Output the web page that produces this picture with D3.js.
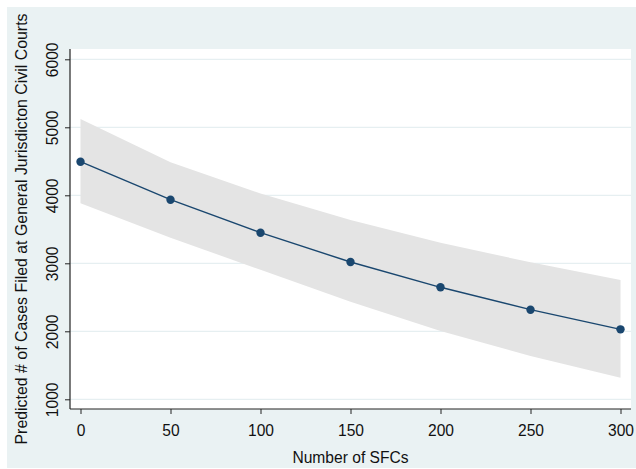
<!DOCTYPE html>
<html><head><meta charset="utf-8">
<script src="https://cdn.jsdelivr.net/npm/d3@7"></script>
<style>
html,body{margin:0;padding:0;background:#fff;}
text{font-family:"Liberation Sans",Arial,sans-serif;fill:#111;}
</style></head>
<body>
<svg id="chart" width="636" height="469"></svg>
<script>
const sfcs = [0, 50, 100, 150, 200, 250, 300];
const predicted = [4494, 3935, 3450, 3019, 2647, 2318, 2029];
const upperCI = [5122, 4485, 4025, 3637, 3303, 3015, 2754];
const lowerCI = [3882, 3375, 2905, 2435, 2004, 1637, 1318];
const yTicks = [1000, 2000, 3000, 4000, 5000, 6000];
const xTicks = [0, 50, 100, 150, 200, 250, 300];
const xTitle = "Number of SFCs";
const yTitle = "Predicted # of Cases Filed at General Jurisdicton Civil Courts";

const svg = d3.select("#chart");
const W = 636, H = 469;
const plot = {left: 70, right: 631, top: 49, bottom: 409};

svg.append("rect").attr("x", 7).attr("y", 7).attr("width", W - 7).attr("height", H - 8)
  .attr("fill", "#eaf2f3");
svg.append("rect").attr("x", plot.left).attr("y", plot.top)
  .attr("width", plot.right - plot.left).attr("height", plot.bottom - plot.top)
  .attr("fill", "#ffffff");

const x = d3.scaleLinear().domain([0, 300]).range([80.5, 620.5]);
const y = d3.scaleLinear().domain([1000, 6000]).range([399.3, 59.3]);

// gridlines
svg.append("g").selectAll("line").data(yTicks).join("line")
  .attr("x1", plot.left).attr("x2", plot.right)
  .attr("y1", d => y(d)).attr("y2", d => y(d))
  .attr("stroke", "#e6eff1").attr("stroke-width", 1.2);

const rows = sfcs.map((s, i) => ({s, p: predicted[i], hi: upperCI[i], lo: lowerCI[i]}));

// CI band
svg.append("path").datum(rows)
  .attr("d", d3.area().x(d => x(d.s)).y0(d => y(d.lo)).y1(d => y(d.hi)))
  .attr("fill", "#e4e4e4");

// line
svg.append("path").datum(rows)
  .attr("d", d3.line().x(d => x(d.s)).y(d => y(d.p)))
  .attr("fill", "none").attr("stroke", "#1a476f").attr("stroke-width", 1.4);

svg.append("g").selectAll("circle").data(rows).join("circle")
  .attr("cx", d => x(d.s)).attr("cy", d => y(d.p)).attr("r", 4.2)
  .attr("fill", "#1a476f");

// axes
const fs = "15.6px";
const yAxis = svg.append("g").attr("transform", `translate(${plot.left},0)`)
  .call(d3.axisLeft(y).tickValues(yTicks).tickSize(5).tickSizeOuter(0).tickFormat(d3.format("d")));
yAxis.select(".domain").remove();
yAxis.selectAll(".tick line").attr("stroke", "#222");
yAxis.selectAll(".tick text")
  .attr("transform", "rotate(-90)")
  .attr("x", 0).attr("y", -12.5).attr("dy", 0)
  .attr("text-anchor", "middle")
  .style("font-size", fs).style("font-family", "Liberation Sans, Arial, sans-serif").attr("fill", "#111");
svg.append("line").attr("x1", plot.left).attr("x2", plot.left)
  .attr("y1", plot.top).attr("y2", plot.bottom).attr("stroke", "#222").attr("stroke-width", 1.2);

const xAxis = svg.append("g").attr("transform", `translate(0,${plot.bottom})`)
  .call(d3.axisBottom(x).tickValues(xTicks).tickSize(5).tickSizeOuter(0));
xAxis.select(".domain").remove();
xAxis.selectAll(".tick line").attr("stroke", "#222");
xAxis.selectAll(".tick text").attr("y", 26.5).attr("dy", 0)
  .style("font-size", fs).style("font-family", "Liberation Sans, Arial, sans-serif").attr("fill", "#111");
svg.append("line").attr("x1", plot.left).attr("x2", plot.right)
  .attr("y1", plot.bottom).attr("y2", plot.bottom).attr("stroke", "#222").attr("stroke-width", 1.2);

// titles
svg.append("text").attr("x", (plot.left + plot.right) / 2).attr("y", 463.3)
  .attr("text-anchor", "middle").style("font-size", fs).text(xTitle);
svg.append("text").attr("transform", `translate(27,${(plot.top + plot.bottom) / 2}) rotate(-90)`)
  .attr("text-anchor", "middle").style("font-size", "15.9px").text(yTitle);
</script>
</body></html>
